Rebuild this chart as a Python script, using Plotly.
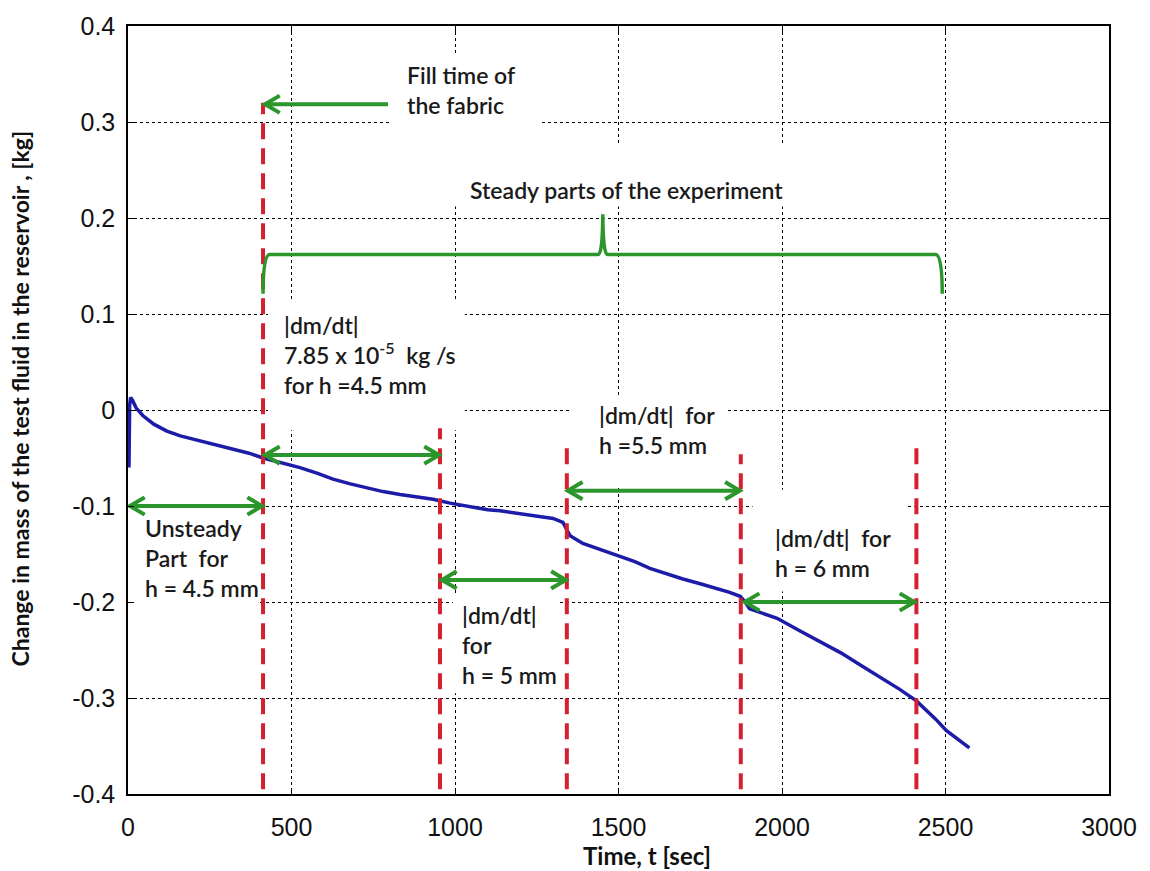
import plotly.graph_objects as go

# Reservoir mass change vs. time (kg)
time_s = [3, 5, 8, 14, 25, 46, 80, 119, 160, 220, 270, 321, 370, 413, 470, 526,
          580, 627, 680, 731, 780, 832, 880, 933, 985, 1050, 1100, 1138, 1200,
          1260, 1300, 1330, 1342, 1352, 1391, 1440, 1495, 1550, 1596, 1650,
          1697, 1750, 1801, 1840, 1872, 1885, 1901, 1985, 2054, 2130, 2180,
          2237, 2300, 2360, 2411, 2440, 2470, 2503, 2540, 2573]
mass_kg = [-0.060, 0.005, 0.013, 0.010, 0.002, -0.006, -0.015, -0.022, -0.027,
           -0.032, -0.036, -0.041, -0.045, -0.050, -0.055, -0.060, -0.066,
           -0.072, -0.077, -0.081, -0.085, -0.088, -0.090, -0.093, -0.097,
           -0.101, -0.104, -0.105, -0.108, -0.111, -0.113, -0.117, -0.124,
           -0.131, -0.139, -0.145, -0.151, -0.158, -0.165, -0.171, -0.176,
           -0.181, -0.186, -0.190, -0.194, -0.199, -0.207, -0.217, -0.230,
           -0.244, -0.253, -0.265, -0.278, -0.291, -0.303, -0.312, -0.322,
           -0.334, -0.343, -0.352]

# Boundaries between experiment stages (s) and the top of each marker line (kg)
event_times = [413, 954, 1342, 1874, 2411]
event_tops = [0.32, -0.019, -0.034, -0.046, -0.034]
event_bottom = -0.395

# Double-headed interval arrows: start (s), end (s), level (kg)
arrow_starts = [6, 419, 960, 1345, 1886]
arrow_ends = [410, 951, 1339, 1871, 2405]
arrow_levels = [-0.100, -0.047, -0.177, -0.084, -0.200]

# Single arrow pointing at the fill time
fill_tail, fill_head, fill_level = 795, 419, 0.3185

# Brace over the steady parts
brace_left, brace_right, brace_peak = 413, 2490, 1452
brace_base, brace_tip, brace_foot = 0.162, 0.204, 0.121

x_ticks = [0, 500, 1000, 1500, 2000, 2500, 3000]
x_tick_text = ["0", "500", "1000", "1500", "2000", "2500", "3000"]
y_ticks = [-0.4, -0.3, -0.2, -0.1, 0, 0.1, 0.2, 0.3, 0.4]
y_tick_text = ["-0.4", "-0.3", "-0.2", "-0.1", "0", "0.1", "0.2", "0.3", "0.4"]

BLUE = "#1c1ca8"
RED = "#d4202f"
GREEN = "#2b962b"
TEXT_FONT = dict(family="Lato, 'Open Sans', sans-serif", size=23, color="#1a1a1a",
                 weight=600)

HEAD_DX = 45      # arrowhead length (s)
HEAD_DY = 0.009   # arrowhead half-width (kg)

fig = go.Figure()

# white backing areas behind the text blocks (hide the grid, stay under the data)
text_boxes = [
    (801, 1259, 0.276, 0.372),
    (953, 2039, 0.212, 0.278),
    (428, 1030, -0.021, 0.114),
    (1357, 1834, -0.078, 0.0155),
    (1910, 2381, -0.189, -0.083),
    (993, 1314, -0.295, -0.191),
    (15, 397, -0.220, -0.112),
]
shapes = []
for x0, x1, y0, y1 in text_boxes:
    shapes.append(dict(type="rect", xref="x", yref="y", x0=x0, x1=x1, y0=y0, y1=y1,
                       fillcolor="white", line=dict(width=0), layer="between"))

# measured curve
fig.add_trace(go.Scatter(x=time_s, y=mass_kg, mode="lines",
                         line=dict(color=BLUE, width=3.5), hoverinfo="skip"))

# stage boundary markers
for t, top in zip(event_times, event_tops):
    fig.add_trace(go.Scatter(x=[t, t], y=[event_bottom, top], mode="lines",
                             line=dict(color=RED, width=4, dash="16px,9px"),
                             hoverinfo="skip"))

# interval arrows
ax, ay = [], []
for x0, x1, y in zip(arrow_starts, arrow_ends, arrow_levels):
    ax += [x0 + HEAD_DX, x0, x0 + HEAD_DX, None, x0, x1, None,
           x1 - HEAD_DX, x1, x1 - HEAD_DX, None]
    ay += [y + HEAD_DY, y, y - HEAD_DY, None, y, y, None,
           y + HEAD_DY, y, y - HEAD_DY, None]
ax += [fill_head + HEAD_DX, fill_head, fill_head + HEAD_DX, None, fill_head, fill_tail]
ay += [fill_level + HEAD_DY, fill_level, fill_level - HEAD_DY, None, fill_level, fill_level]
fig.add_trace(go.Scatter(x=ax, y=ay, mode="lines",
                         line=dict(color=GREEN, width=4), hoverinfo="skip"))

# brace
L, R, P = brace_left, brace_right, brace_peak
b, tip, f = brace_base, brace_tip, brace_foot
brace_path = (f"M {L},{f} Q {L},{b} {L + 20},{b} L {P - 14},{b} "
              f"Q {P - 1},{b} {P},{tip} Q {P + 1},{b} {P + 14},{b} "
              f"L {R - 20},{b} Q {R},{b} {R},{f}")
shapes.append(dict(type="path", xref="x", yref="y", path=brace_path,
                   line=dict(color=GREEN, width=3.5), layer="above"))

def note(x, y, text, xanchor="left"):
    return dict(x=x, y=y, xref="x", yref="y", text=text, showarrow=False,
                xanchor=xanchor, yanchor="middle", align="left", font=TEXT_FONT)

annotations = [
    note(847, 0.333, "Fill time of<br>the fabric"),
    note(1523, 0.2296, "Steady parts of the experiment", xanchor="center"),
    note(471, 0.057, "|dm/dt|<br>7.85 x 10<sup>-5</sup>  kg /s<br>for h =4.5 mm"),
    note(46, -0.154, "Unsteady<br>Part  for<br>h = 4.5 mm"),
    note(1015, -0.245, "|dm/dt|<br>for<br>h = 5 mm"),
    note(1433, -0.021, "|dm/dt|  for<br>h =5.5 mm"),
    note(1971, -0.149, "|dm/dt|  for<br>h = 6 mm"),
    # axis titles
    dict(x=1586, y=0, xref="x", yref="paper", yshift=-61, showarrow=False,
         text="<b>Time, t [sec]</b>", xanchor="center", yanchor="middle",
         font=dict(family="Lato, sans-serif", size=24, color="#111111")),
    dict(x=0, y=0.515, xref="paper", yref="paper", xshift=-108, showarrow=False,
         text="<b>Change in mass of the test fluid in the reservoir , [kg]</b>",
         textangle=-90, xanchor="center", yanchor="middle",
         font=dict(family="Lato, sans-serif", size=23, color="#111111")),
]

axis_common = dict(
    showline=True, linecolor="black", linewidth=1.5, mirror="ticks",
    ticks="inside", ticklen=6, tickcolor="black",
    showgrid=True, gridcolor="black", gridwidth=1, griddash="3px,3px",
    zeroline=False,
    tickfont=dict(family="Liberation Sans, Arial, sans-serif", size=25, color="#111111"),
)

fig.update_layout(
    width=1150, height=871,
    margin=dict(l=128, r=41, t=20, b=77),
    paper_bgcolor="white", plot_bgcolor="white",
    showlegend=False,
    shapes=shapes,
    annotations=annotations,
    xaxis=dict(range=[0, 3000], tickvals=x_ticks, ticktext=x_tick_text,
               ticklabelstandoff=10, **axis_common),
    yaxis=dict(range=[-0.4, 0.4], tickvals=y_ticks, ticktext=y_tick_text,
               ticklabelstandoff=6, **axis_common),
)

fig.write_html("out.html")
